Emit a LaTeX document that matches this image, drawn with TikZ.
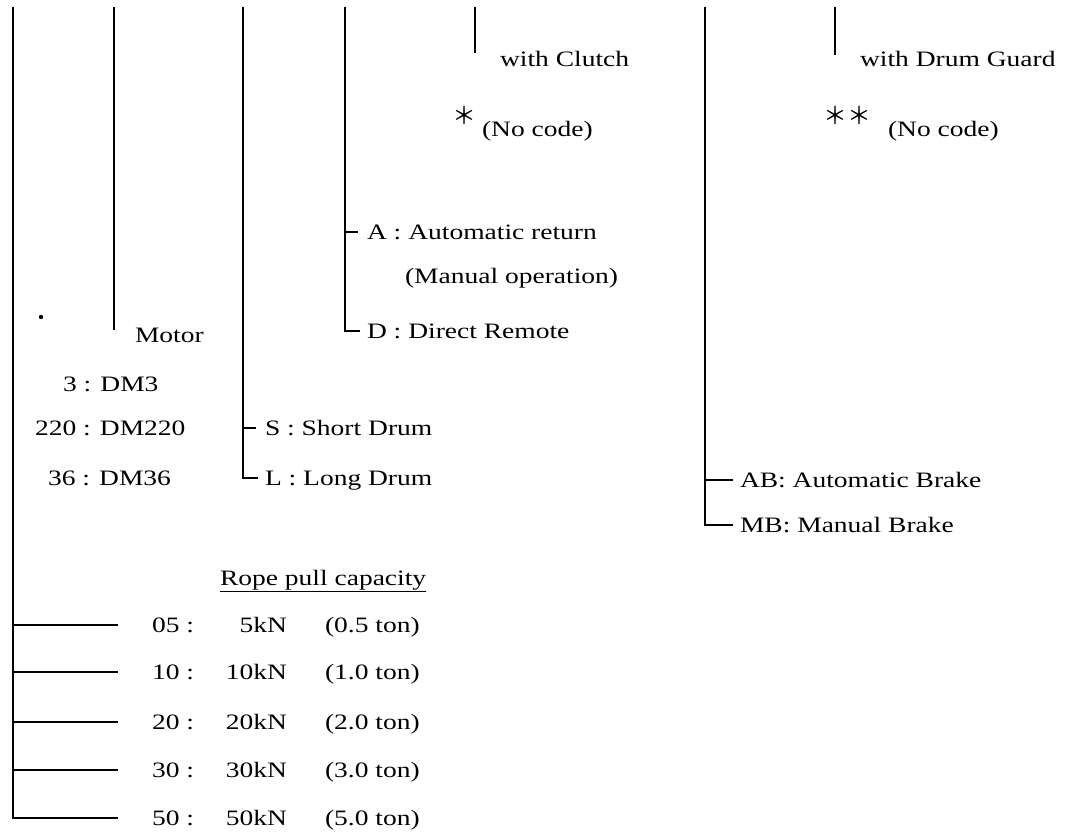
\documentclass[tikz,border=0pt]{standalone}
\usepackage{fontspec}
\setmainfont{Liberation Serif}[FakeStretch=1.25]
\newfontfamily\astfont{Noto Sans CJK JP}
\begin{document}
\begin{tikzpicture}[x=1pt,y=-1pt,
  lbl/.style={anchor=base west,inner sep=0pt,outer sep=0pt,font=\fontsize{22}{26}\selectfont},
  lble/.style={anchor=base east,inner sep=0pt,outer sep=0pt,font=\fontsize{22}{26}\selectfont},
  ast/.style={anchor=base west,inner sep=0pt,outer sep=0pt,font=\astfont\fontsize{24}{26}\selectfont},
  wire/.style={line width=1.5pt},
  branch/.style={line width=1.1pt}]
\useasboundingbox (0,0) rectangle (1070,837);

% ---- top ends of the code columns
\coordinate (t0) at (13,7);
\coordinate (t1) at (114,7);
\coordinate (t2) at (243,7);
\coordinate (t3) at (345,7);
\coordinate (t4) at (475,7);
\coordinate (t5) at (705,7);
\coordinate (t6) at (835,7);

% ---- clutch / drum guard
\node[lbl] (clutch) at (500,67) {with Clutch};
\node[ast] (ast1) at (452,125) {＊};
\node[lbl] (nocode1) at (482,137) {(No code)};
\coordinate (e4) at (475,53);
\draw[wire] (t4) -- (e4);

\node[lbl] (guard) at (860,67) {with Drum Guard};
\node[ast] (ast2) at (823,125) {＊＊};
\node[lbl] (nocode2) at (888,137) {(No code)};
\coordinate (e6) at (835,55);
\draw[wire] (t6) -- (e6);

% ---- operation
\node[lbl] (opA) at (367,239) {A : Automatic return};
\node[lbl] (opAm) at (405,283) {(Manual operation)};
\node[lbl] (opD) at (367,338) {D : Direct Remote};
\coordinate (cA) at (358,232);
\coordinate (cD) at (360,331);
\draw[wire] (t3) |- (cD);
\draw[branch] (t3 |- cA) -- (cA);

% ---- motor
\node[lbl] (motor) at (135,342) {Motor};
\coordinate (e1) at (114,330);
\draw[wire] (t1) -- (e1);
\fill (41,317) circle (2.2pt);
\node[lbl] (m3) at (63,391) {3 : DM3};
\node[lbl] (m220) at (35,435) {220 : DM220};
\node[lbl] (m36) at (48,485) {36 : DM36};

% ---- drum
\node[lbl] (dS) at (265,435) {S : Short Drum};
\node[lbl] (dL) at (265,485) {L : Long Drum};
\coordinate (cS) at (256,428);
\coordinate (cL) at (258,478);
\draw[wire] (t2) |- (cL);
\draw[branch] (t2 |- cS) -- (cS);

% ---- brake
\node[lbl] (bA) at (740,487) {AB: Automatic Brake};
\node[lbl] (bM) at (740,532) {MB: Manual Brake};
\coordinate (cAB) at (733,480);
\coordinate (cMB) at (733,525);
\draw[wire] (t5) |- (cMB);
\draw[branch] (t5 |- cAB) -- (cAB);

% ---- rope pull capacity
\node[lbl] (cap) at (220,585) {\underline{Rope pull capacity}};
\foreach \c/\v/\t/\y in {05/5kN/0.5/625, 10/10kN/1.0/672, 20/20kN/2.0/722, 30/30kN/3.0/770, 50/50kN/5.0/818}{
  \node[lbl] (k\c) at (152,\y+7) {\c\ :};
  \node[lble] (v\c) at (287,\y+7) {\v};
  \node[lbl] (n\c) at (325,\y+7) {(\t\ ton)};
  \coordinate (h\c) at (118,\y);
}
\draw[wire] (t0) |- (h50);
\foreach \c in {05,10,20,30}{
  \draw[branch] (t0 |- h\c) -- (h\c);
}
\end{tikzpicture}
\end{document}
